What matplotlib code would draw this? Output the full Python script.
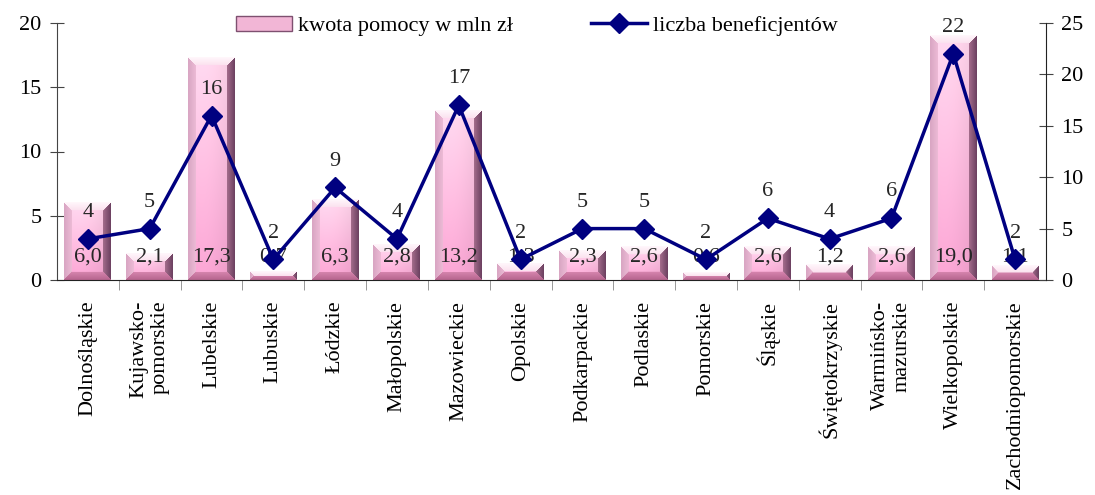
import numpy as np
import matplotlib
matplotlib.use('Agg')
import matplotlib.pyplot as plt
from matplotlib.patches import Patch
from matplotlib.lines import Line2D
from matplotlib.colors import to_rgb

plt.rcParams['font.family'] = ['Liberation Serif', 'DejaVu Serif']

regions = ['Dolnośląskie', 'Kujawsko-\npomorskie', 'Lubelskie', 'Lubuskie', 'Łódzkie',
           'Małopolskie', 'Mazowieckie', 'Opolskie', 'Podkarpackie', 'Podlaskie',
           'Pomorskie', 'Śląskie', 'Świętokrzyskie', 'Warmińsko-\nmazurskie',
           'Wielkopolskie', 'Zachodniopomorskie']
kwota = [6.0, 2.1, 17.3, 0.7, 6.3, 2.8, 13.2, 1.3, 2.3, 2.6, 0.6, 2.6, 1.2, 2.6, 19.0, 1.1]
liczba = [4, 5, 16, 2, 9, 4, 17, 2, 5, 5, 2, 6, 4, 6, 22, 2]

FS = 16
W, H = 1095, 495
fig = plt.figure(figsize=(W / 100, H / 100), dpi=100)
ax = fig.add_axes([57 / W, 1 - 280 / H, (1046 - 57) / W, (280 - 23) / H])
ax.set_xlim(-0.5, len(regions) - 0.5)
ax.set_ylim(0, 20)

x = np.arange(len(regions))
bw = 0.76


def bevel_img(wpx, hpx, b=8):
    # pink face with bevelled edges, one pixel per cell
    wpx, hpx = max(int(round(wpx)), 2), max(int(round(hpx)), 2)
    bb = min(b, hpx / 2.0, wpx / 2.0)
    ii, jj = np.mgrid[0:hpx, 0:wpx]
    d = np.stack([ii, hpx - 1 - ii, jj, wpx - 1 - jj])
    k = d.argmin(axis=0)
    dmin = d.min(axis=0)
    t = (ii / max(hpx - 1, 1))[..., None]
    u = (jj / max(wpx - 1, 1))[..., None]
    face = np.array(to_rgb('#f9d0e6')) * (1 - t) + np.array(to_rgb('#f09ecb')) * t
    face = face * (1.0 + 0.05 * np.cos((u - 0.3) * np.pi))
    img = face.copy()
    w = (dmin / max(bb, 1))[..., None]
    cols = [('#fff6fb', '#fbe0ee'), ('#b86690', '#d887b0'),
            ('#d9a6c3', '#eebcd7'), ('#6e4262', '#a8708f')]
    for n in range(4):
        c0, c1 = (np.array(to_rgb(c)) for c in cols[n])
        grad = c0 * (1 - w) + c1 * w
        m = (k == n) & (dmin < bb)
        img[m] = grad[m]
    return np.clip(img, 0, 1)


to_px = ax.transData
for xi, v in zip(x, kwota):
    p0 = to_px.transform((xi - bw / 2, 0))
    p1 = to_px.transform((xi + bw / 2, v))
    img = bevel_img(p1[0] - p0[0], p1[1] - p0[1])
    ax.imshow(img, extent=(xi - bw / 2, xi + bw / 2, 0, v), aspect='auto',
              interpolation='bilinear', zorder=2)
    ax.text(xi, 1.8, f'{v:.1f}'.replace('.', ','), ha='center', va='center',
            fontsize=FS, color='#262626', zorder=3)

ax.set_xlim(-0.5, len(regions) - 0.5)
ax.set_ylim(0, 20)
ax.set_yticks([0, 5, 10, 15, 20])
ax.set_xticks(x)
ax.set_xticklabels(regions, rotation=90, fontsize=FS, multialignment='right')
ax.set_xticks(x[:-1] + 0.5, minor=True)
ax.tick_params(axis='x', which='major', length=0, pad=15)
ax.tick_params(axis='x', which='minor', length=7, direction='out', color='#888888')
ax.tick_params(axis='y', direction='inout', length=10, labelsize=FS, color='#444444', pad=6)
for s in ['top', 'right']:
    ax.spines[s].set_visible(False)
ax.spines['left'].set_color('#444444')
ax.spines['bottom'].set_color('#222222')

ax2 = ax.twinx()
ax2.set_ylim(0, 25)
ax2.set_yticks([0, 5, 10, 15, 20, 25])
ax2.plot(x, liczba, color='#000080', lw=2.5, marker='D', ms=10, zorder=5)
for xi, n in zip(x, liczba):
    ax2.annotate(str(n), (xi, n), xytext=(0, 19), textcoords='offset points',
                 ha='center', va='center', fontsize=FS, color='#262626')
ax2.tick_params(axis='y', direction='inout', length=10, labelsize=FS, color='#444444', pad=6)
for s in ['top', 'left', 'bottom']:
    ax2.spines[s].set_visible(False)
ax2.spines['right'].set_color('#222222')

handles = [Patch(facecolor='#f2b6d6', edgecolor='#7e5070'),
           Line2D([], [], color='#000080', lw=2.5, marker='D', ms=10)]
fig.legend(handles, ['kwota pomocy w mln zł', 'liczba beneficjentów'], loc='center',
           bbox_to_anchor=(537 / W, 1 - 26 / H), ncol=2, frameon=False, fontsize=FS,
           handlelength=2.5, columnspacing=3.5, handletextpad=0.3)

fig.savefig('out.png', dpi=100)
